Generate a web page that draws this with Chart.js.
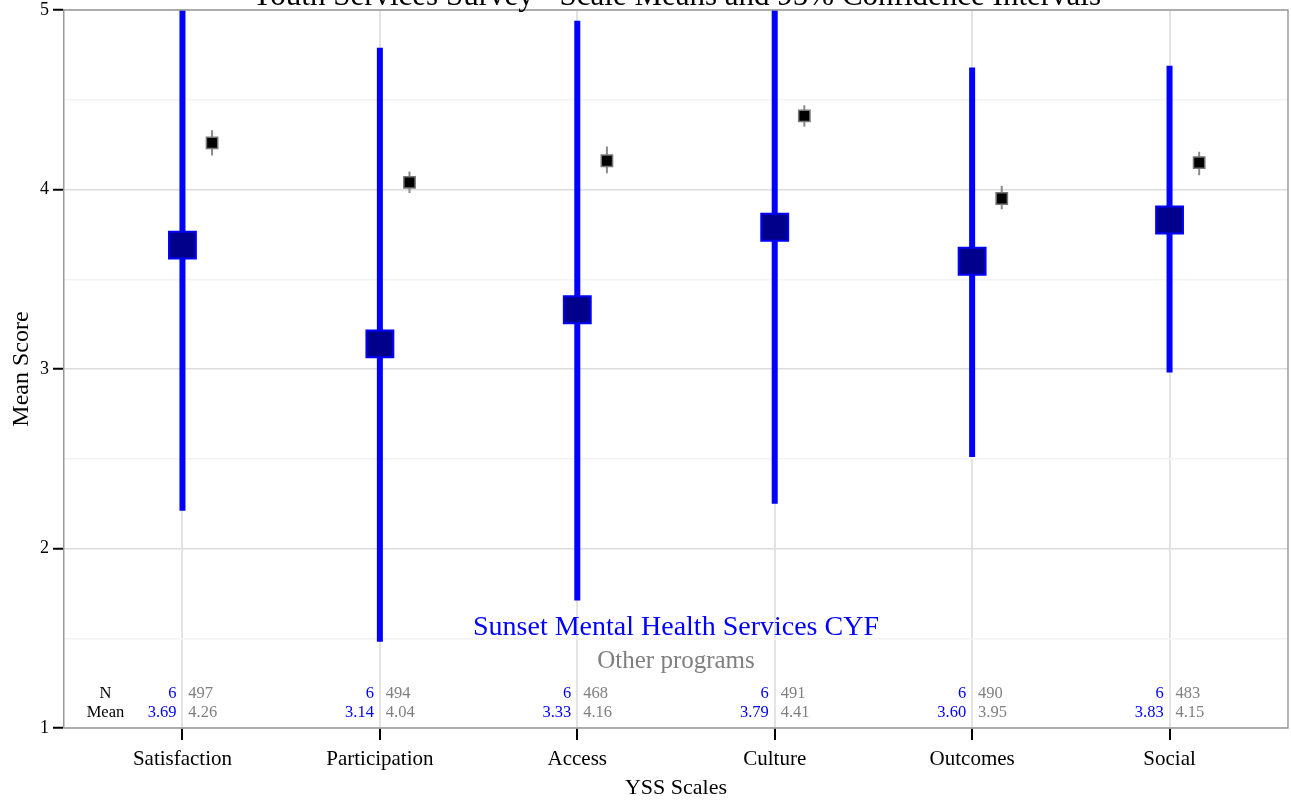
<!DOCTYPE html>
<html>
<head>
<meta charset="utf-8">
<script src="https://cdn.jsdelivr.net/npm/chart.js@4/dist/chart.umd.min.js"></script>
<style>
  html, body { margin: 0; padding: 0; background: #fff; overflow: hidden; }
  #wrap { width: 1291px; height: 804px; }
  canvas { display: block; }
</style>
</head>
<body>
<div id="wrap"><canvas id="chart"></canvas></div>
<script>
'use strict';

// YSS scales (categories)
const scaleNames = ['Satisfaction', 'Participation', 'Access', 'Culture', 'Outcomes', 'Social'];

// Sunset Mental Health Services CYF
const programN = [6, 6, 6, 6, 6, 6];
const programMean = [3.69, 3.14, 3.33, 3.79, 3.60, 3.83];
const programLow = [2.21, 1.48, 1.71, 2.25, 2.51, 2.98];
const programHigh = [5.17, 4.79, 4.94, 5.33, 4.68, 4.69];

// Other programs
const otherN = [497, 494, 468, 491, 490, 483];
const otherMean = [4.26, 4.04, 4.16, 4.41, 3.95, 4.15];
const otherLow = [4.19, 3.98, 4.09, 4.35, 3.89, 4.08];
const otherHigh = [4.33, 4.10, 4.24, 4.47, 4.02, 4.21];

const yTicks = [1, 2, 3, 4, 5];
const yMinor = [1.5, 2.5, 3.5, 4.5];

const SERIF = '"Liberation Serif", "DejaVu Serif", serif';
const BLUE = '#0000ff';
const GREY = '#7f7f7f';
const otherShift = 0.15;

function errorLine(lo, hi, shift) {
  const pts = [];
  lo.forEach((l, i) => {
    pts.push({ x: i + 1 + shift, y: l }, { x: i + 1 + shift, y: hi[i] }, { x: i + 1 + shift, y: null });
  });
  return pts;
}
function points(vals, shift) {
  return vals.map((v, i) => ({ x: i + 1 + shift, y: v }));
}

// text annotations, panel border and the (cut off) title
const annotations = {
  id: 'annotations',
  afterDatasetsDraw(chart) {
    const { ctx, chartArea: a } = chart;
    const xs = chart.scales.x, ys = chart.scales.y;
    ctx.save();
    ctx.strokeStyle = '#9a9a9a';
    ctx.lineWidth = 1.5;
    ctx.beginPath();
    ctx.moveTo(a.left, a.top);
    ctx.lineTo(a.right, a.top);
    ctx.lineTo(a.right, a.bottom);
    ctx.lineTo(a.left, a.bottom);
    ctx.stroke();

    ctx.textBaseline = 'middle';
    ctx.textAlign = 'center';
    ctx.font = '28px ' + SERIF;
    ctx.fillStyle = BLUE;
    ctx.fillText('Sunset Mental Health Services CYF', (a.left + a.right) / 2, ys.getPixelForValue(1.56));
    ctx.font = '25px ' + SERIF;
    ctx.fillStyle = GREY;
    ctx.fillText('Other programs', (a.left + a.right) / 2, ys.getPixelForValue(1.37));

    const rowN = ys.getPixelForValue(1.19), rowMean = ys.getPixelForValue(1.085);
    ctx.font = '16.5px ' + SERIF;
    ctx.fillStyle = '#000';
    ctx.fillText('N', xs.getPixelForValue(0.61), rowN);
    ctx.fillText('Mean', xs.getPixelForValue(0.61), rowMean);
    scaleNames.forEach((s, i) => {
      ctx.textAlign = 'right';
      ctx.fillStyle = BLUE;
      ctx.fillText(String(programN[i]), xs.getPixelForValue(i + 1 - 0.03), rowN);
      ctx.fillText(programMean[i].toFixed(2), xs.getPixelForValue(i + 1 - 0.03), rowMean);
      ctx.textAlign = 'left';
      ctx.fillStyle = GREY;
      ctx.fillText(String(otherN[i]), xs.getPixelForValue(i + 1 + 0.03), rowN);
      ctx.fillText(otherMean[i].toFixed(2), xs.getPixelForValue(i + 1 + 0.03), rowMean);
    });

    ctx.textAlign = 'center';
    ctx.textBaseline = 'alphabetic';
    ctx.font = '31px ' + SERIF;
    ctx.fillStyle = '#000';
    ctx.fillText('Youth Services Survey - Scale Means and 95% Confidence Intervals', (a.left + a.right) / 2, 5);
    ctx.restore();
  }
};

new Chart(document.getElementById('chart'), {
  type: 'scatter',
  data: {
    datasets: [
      {
        label: 'Sunset mean',
        data: points(programMean, 0),
        pointStyle: 'rect',
        pointRadius: 19,
        backgroundColor: '#00008b',
        borderColor: BLUE,
        borderWidth: 2,
        order: 1
      },
      {
        label: 'Other mean',
        data: points(otherMean, otherShift),
        pointStyle: 'rect',
        pointRadius: 8,
        backgroundColor: '#000',
        borderColor: '#777',
        borderWidth: 1.5,
        order: 2
      },
      {
        label: 'Sunset CI',
        type: 'line',
        data: errorLine(programLow, programHigh, 0),
        borderColor: BLUE,
        borderWidth: 6,
        borderCapStyle: 'butt',
        pointRadius: 0,
        spanGaps: false,
        clip: 0,
        order: 3
      },
      {
        label: 'Other CI',
        type: 'line',
        data: errorLine(otherLow, otherHigh, otherShift),
        borderColor: '#8a8a8a',
        borderWidth: 2,
        pointRadius: 0,
        spanGaps: false,
        clip: 0,
        order: 4
      }
    ]
  },
  options: {
    responsive: true,
    maintainAspectRatio: false,
    animation: false,
    layout: { autoPadding: false, padding: { left: 0, right: 3, top: 0, bottom: 0 } },
    plugins: {
      legend: { display: false },
      tooltip: { enabled: false }
    },
    scales: {
      x: {
        type: 'linear',
        min: 0.4,
        max: 6.6,
        afterBuildTicks: s => { s.ticks = scaleNames.map((n, i) => ({ value: i + 1 })); },
        afterFit: s => { s.height = 76; },
        ticks: {
          autoSkip: false,
          maxRotation: 0,
          padding: 7,
          color: '#000',
          font: { family: SERIF, size: 21 },
          callback: v => scaleNames[v - 1]
        },
        grid: {
          color: '#e3e3e3',
          lineWidth: 2,
          tickLength: 12,
          tickColor: '#000',
          tickWidth: 2
        },
        border: { display: false },
        title: {
          display: true,
          text: 'YSS Scales',
          color: '#000',
          font: { family: SERIF, size: 22 },
          padding: { top: 0, bottom: 3 }
        }
      },
      y: {
        min: 1,
        max: 5,
        afterBuildTicks: s => { s.ticks = yTicks.concat(yMinor).sort((p, q) => p - q).map(v => ({ value: v })); },
        afterFit: s => { s.width = 64; s.paddingTop = 10; s.paddingBottom = 0; },
        ticks: {
          autoSkip: false,
          padding: 4,
          color: '#000',
          font: { family: SERIF, size: 18 },
          callback: v => (yTicks.includes(v) ? String(v) : '')
        },
        grid: {
          color: c => (yTicks.includes(c.tick.value) ? '#dcdcdc' : '#f3f3f3'),
          lineWidth: 1.5,
          tickLength: 11,
          tickColor: c => (yTicks.includes(c.tick.value) ? '#000' : 'rgba(0,0,0,0)'),
          tickWidth: 2
        },
        border: { display: true, color: '#9a9a9a', width: 1.5 },
        title: {
          display: true,
          text: 'Mean Score',
          color: '#000',
          font: { family: SERIF, size: 24 },
          padding: { top: 7, bottom: 0 }
        }
      }
    }
  },
  plugins: [annotations]
});
</script>
</body>
</html>
